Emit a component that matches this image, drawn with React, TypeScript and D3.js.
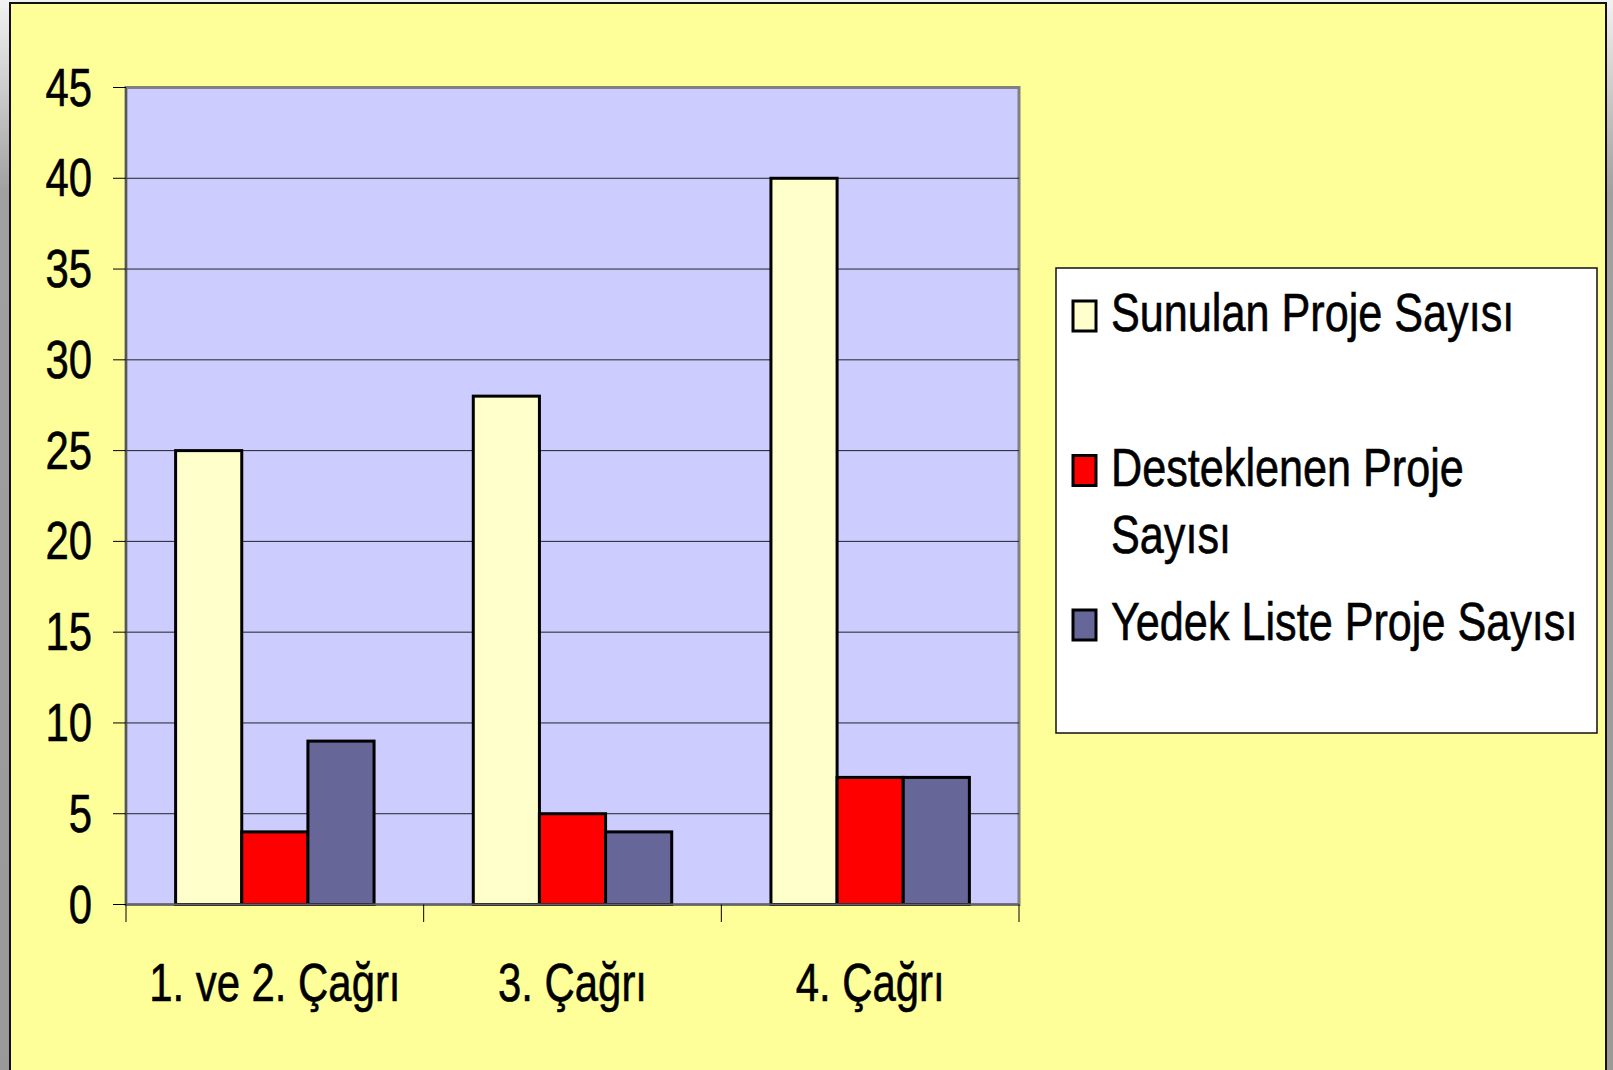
import React from "react";
import * as d3 from "d3";

// chart values
const categories = ["1. ve 2. Çağrı", "3. Çağrı", "4. Çağrı"];
const seriesNames = ["Sunulan Proje Sayısı", "Desteklenen Proje Sayısı", "Yedek Liste Proje Sayısı"];
const sunulan = [25, 28, 40];
const desteklenen = [4, 5, 7];
const yedek = [9, 4, 7];
const yTicks = [0, 5, 10, 15, 20, 25, 30, 35, 40, 45];
// legend text as it wraps in the original
const legendLines = [["Sunulan Proje Sayısı"], ["Desteklenen Proje", "Sayısı"], ["Yedek Liste Proje Sayısı"]];
const colors = ["#FFFFCC", "#FF0000", "#666699"];

const W = 1613;
const H = 1070;
const plot = { left: 126, top: 87.5, right: 1019, bottom: 904.5 };
const FONT = "'Liberation Sans', Arial, Helvetica, sans-serif";
const FS = 53;
const SX = 0.79; // text on the slide is squeezed horizontally

export default function App() {
  const series = [sunulan, desteklenen, yedek];

  const x0 = d3.scaleBand<string>()
    .domain(categories)
    .range([plot.left, plot.right])
    .paddingInner(0)
    .paddingOuter(0);

  const x1 = d3.scaleBand<number>()
    .domain(d3.range(series.length))
    .range([0, x0.bandwidth()])
    .paddingInner(0)
    .paddingOuter(0.75);

  const y = d3.scaleLinear().domain([0, 45]).range([plot.bottom, plot.top]);

  const catEdges = categories.map((c) => x0(c) as number).concat([plot.right]);

  const txt = { fontSize: FS, fill: "#000", stroke: "#000", strokeWidth: 0.6 };

  return (
    <svg
      width={W}
      height={H}
      style={{ position: "absolute", left: 0, top: 0, display: "block" }}
      fontFamily={FONT}
    >
      <defs>
        <linearGradient id="pagebg" x1="0" y1="0" x2="0" y2="1">
          <stop offset="0" stopColor="#f2f2f2" />
          <stop offset="0.18" stopColor="#a0a0a0" />
          <stop offset="1" stopColor="#999999" />
        </linearGradient>
      </defs>

      {/* page & slide background */}
      <rect x={0} y={0} width={W} height={H} fill="url(#pagebg)" />
      <rect x={10} y={3} width={1596} height={H + 10} fill="#FFFF99" stroke="#111" strokeWidth={2} />

      {/* plot area */}
      <rect
        x={plot.left}
        y={plot.top}
        width={plot.right - plot.left}
        height={plot.bottom - plot.top}
        fill="#CCCCFF"
        stroke="#808080"
        strokeWidth={3}
      />

      {/* gridlines */}
      {yTicks.filter((t) => t > 0 && t < 45).map((t) => (
        <line key={"g" + t} x1={plot.left} x2={plot.right} y1={y(t)} y2={y(t)} stroke="#222" strokeWidth={1} />
      ))}

      {/* bars */}
      {categories.map((c, ci) => (
        <g key={c} transform={`translate(${x0(c)},0)`}>
          {series.map((s, si) => (
            <rect
              key={si}
              x={x1(si)}
              y={y(s[ci])}
              width={x1.bandwidth()}
              height={y(0) - y(s[ci])}
              fill={colors[si]}
              stroke="#000"
              strokeWidth={3}
            />
          ))}
        </g>
      ))}

      {/* axes */}
      <line x1={plot.left} x2={plot.left} y1={plot.top} y2={plot.bottom} stroke="#555" strokeWidth={2} />
      <line x1={plot.left} x2={plot.right} y1={plot.bottom} y2={plot.bottom} stroke="#666" strokeWidth={2} />

      {yTicks.map((t) => (
        <g key={"y" + t}>
          <line x1={113} x2={plot.left} y1={y(t)} y2={y(t)} stroke="#000" strokeWidth={1} />
          <text transform={`translate(92,${y(t) + 18}) scale(${SX},1)`} textAnchor="end" {...txt}>
            {t}
          </text>
        </g>
      ))}

      {catEdges.map((e, i) => (
        <line key={"t" + i} x1={e} x2={e} y1={plot.bottom} y2={922} stroke="#000" strokeWidth={1} />
      ))}

      {categories.map((c) => (
        <text
          key={"c" + c}
          transform={`translate(${(x0(c) as number) + x0.bandwidth() / 2},1001) scale(${SX},1)`}
          textAnchor="middle"
          {...txt}
        >
          {c}
        </text>
      ))}

      {/* legend */}
      <rect x={1056} y={268} width={541} height={465} fill="#FFFFFF" stroke="#111" strokeWidth={1.5} />
      {seriesNames.map((name, i) => {
        const base = 331 + i * 154.5;
        return (
          <g key={name}>
            <rect x={1073} y={base - 30} width={23} height={30} fill={colors[i]} stroke="#000" strokeWidth={3} />
            {legendLines[i].map((ln, li) => (
              <text key={li} transform={`translate(1111,${base + li * 67}) scale(${SX + 0.025},1)`} {...txt}>
                {ln}
              </text>
            ))}
          </g>
        );
      })}
    </svg>
  );
}
